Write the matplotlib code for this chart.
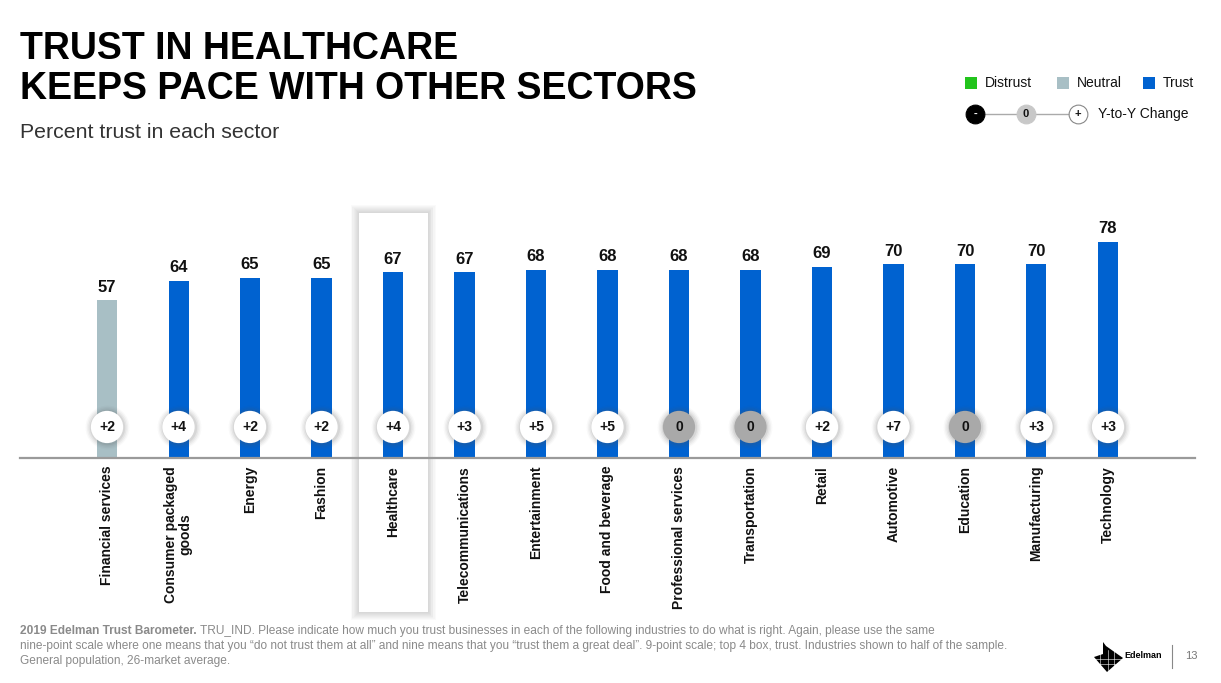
import matplotlib.pyplot as plt
from matplotlib.patches import Rectangle, Polygon
from matplotlib.lines import Line2D

plt.rcParams['font.family'] = ['Liberation Sans', 'DejaVu Sans']

# data
sectors = ["Financial services", "Consumer packaged\ngoods", "Energy", "Fashion",
           "Healthcare", "Telecommunications", "Entertainment", "Food and beverage",
           "Professional services", "Transportation", "Retail", "Automotive",
           "Education", "Manufacturing", "Technology"]
trust = [57, 64, 65, 65, 67, 67, 68, 68, 68, 68, 69, 70, 70, 70, 78]
change = [2, 4, 2, 2, 4, 3, 5, 5, 0, 0, 2, 7, 0, 3, 3]
highlight = "Healthcare"

BLUE = "#0062D0"
NEUTRAL = "#A8BFC5"
GREEN = "#22C41C"
ZERO_GRAY = "#A9A9A9"
FOOT = "#8a8a8a"

W, H = 1221, 683
fig = plt.figure(figsize=(W / 100, H / 100), dpi=100)
fig.patch.set_facecolor("white")


def px(x, y):
    return x / W, 1 - y / H


# main axes: left 20px, right 1195px, baseline at 458px, top at 181px
ax = fig.add_axes([20 / W, 1 - 458 / H, 1175 / W, 277 / H])
ax.patch.set_alpha(0)
ax.set_xlim(-1.217, 15.217)
ax.set_ylim(0, 100)
for s in ax.spines.values():
    s.set_visible(False)
ax.set_xticks([])
ax.set_yticks([])
ax.axhline(0, color="#9a9a9a", lw=1.6, zorder=5, clip_on=False)

colors = [BLUE if v >= 60 else (NEUTRAL if v >= 50 else GREEN) for v in trust]
x = list(range(len(trust)))
ax.bar(x, trust, width=0.28, color=colors, zorder=2)

for i, v in enumerate(trust):
    ax.text(i, v + 2.0, str(v), ha="center", va="bottom", fontsize=12,
            fontweight="bold", color="#111111")

# change bubbles with soft shadow
cy = 11.2
for k, a in [(1000, 0.03), (880, 0.05), (760, 0.07), (650, 0.1)]:
    ax.scatter(x, [cy] * len(x), s=k, color="#555555", alpha=a, lw=0, zorder=3)
face = [ZERO_GRAY if c == 0 else "white" for c in change]
ax.scatter(x, [cy] * len(x), s=540, color=face, lw=0, zorder=4)
for i, c in enumerate(change):
    lab = "0" if c == 0 else ("+%d" % c if c > 0 else "%d" % c)
    ax.text(i, cy, lab, ha="center", va="center", fontsize=10,
            fontweight="bold", color="#111111", zorder=6)

# category labels
for i, name in enumerate(sectors):
    ax.text(i, -2.8, name, rotation=90, ha="center", va="top",
            multialignment="center", fontsize=10, fontweight="bold",
            color="#111111", linespacing=1.05)

# highlight box behind Healthcare, soft shadow
hi = sectors.index(highlight)
hx = 107 + 71.5 * hi
bx0, bx1, by0, by1 = hx - 34.5, hx + 34.5, 213, 612
for d in range(8, 0, -1):
    fig.patches.append(Rectangle(px(bx0 - d, by1 + d), (bx1 - bx0 + 2 * d) / W,
                                 (by1 - by0 + 2 * d) / H, transform=fig.transFigure,
                                 facecolor="#333333", alpha=0.025, lw=0, zorder=-2))
fig.patches.append(Rectangle(px(bx0, by1), (bx1 - bx0) / W, (by1 - by0) / H,
                             transform=fig.transFigure, facecolor="white",
                             lw=0, zorder=-1))

# titles
fig.text(*px(20, 31), "TRUST IN HEALTHCARE\nKEEPS PACE WITH OTHER SECTORS",
         ha="left", va="top", fontsize=27, fontweight="bold", color="black",
         linespacing=1.13)
fig.text(*px(20, 133), "Percent trust in each sector", ha="left", va="center",
         fontsize=15.3, color="#333333")

# legend
for sx, col, lab in [(965, GREEN, "Distrust"), (1057, NEUTRAL, "Neutral"),
                     (1143, BLUE, "Trust")]:
    fig.patches.append(Rectangle(px(sx, 89), 12 / W, 12 / H,
                                 transform=fig.transFigure, facecolor=col, lw=0))
    fig.text(*px(sx + 20, 83), lab, ha="left", va="center", fontsize=10,
             color="#111111")
fig.lines.append(Line2D([975 / W, 1078 / W], [1 - 114 / H] * 2,
                        transform=fig.transFigure, color="#aaaaaa", lw=1))
for cx, fc, ec, lab, tc in [(975, "black", "black", "-", "white"),
                            (1026, "#c8c8c8", "#c8c8c8", "0", "#111111"),
                            (1078, "white", "#888888", "+", "#111111")]:
    fig.lines.append(Line2D([cx / W], [1 - 114 / H], transform=fig.transFigure,
                            marker="o", markersize=13.5, markerfacecolor=fc,
                            markeredgecolor=ec, markeredgewidth=0.8, lw=0))
    fig.text(*px(cx, 114), lab, ha="center", va="center", fontsize=8,
             fontweight="bold", color=tc)
fig.text(*px(1098, 114), "Y-to-Y Change", ha="left", va="center", fontsize=10,
         color="#111111")

# footnote
fs = 8.6
bold = fig.text(*px(20, 631), "2019 Edelman Trust Barometer.", ha="left",
                va="center", fontsize=fs, fontweight="bold", color=FOOT)
ax.annotate(" TRU_IND. Please indicate how much you trust businesses in each "
            "of the following industries to do what is right. Again, please use the same",
            xy=(1, 0), xycoords=bold, ha="left", va="bottom", fontsize=fs,
            color=FOOT, annotation_clip=False)
fig.text(*px(20, 646), "nine-point scale where one means that you \u201cdo not trust them at all\u201d "
         "and nine means that you \u201ctrust them a great deal\u201d. 9-point scale; top 4 box, "
         "trust. Industries shown to half of the sample.",
         ha="left", va="center", fontsize=fs, color=FOOT)
fig.text(*px(20, 661), "General population, 26-market average.", ha="left",
         va="center", fontsize=fs, color=FOOT)

# logo and page number
logo = [(1103, 642), (1106, 646), (1123, 658), (1107, 672), (1094, 657), (1103, 654)]
fig.patches.append(Polygon([px(a, b) for a, b in logo], closed=True,
                           transform=fig.transFigure, facecolor="black", lw=0))
for gx in [1100, 1108, 1114]:
    fig.lines.append(Line2D([gx / W] * 2, [1 - 650 / H, 1 - 670 / H],
                            transform=fig.transFigure, color="white", lw=0.4))
for gy in [659, 664]:
    fig.lines.append(Line2D([1094 / W, 1122 / W], [1 - gy / H] * 2,
                            transform=fig.transFigure, color="white", lw=0.4))
fig.text(*px(1124, 656), "Edelman", ha="left", va="center", fontsize=6.5,
         fontweight="bold", color="black")
fig.lines.append(Line2D([1172 / W] * 2, [1 - 645 / H, 1 - 668 / H],
                        transform=fig.transFigure, color="#888888", lw=0.8))
fig.text(*px(1185, 656), "13", ha="left", va="center", fontsize=8, color="#777777")

fig.savefig("out.png", dpi=100)
